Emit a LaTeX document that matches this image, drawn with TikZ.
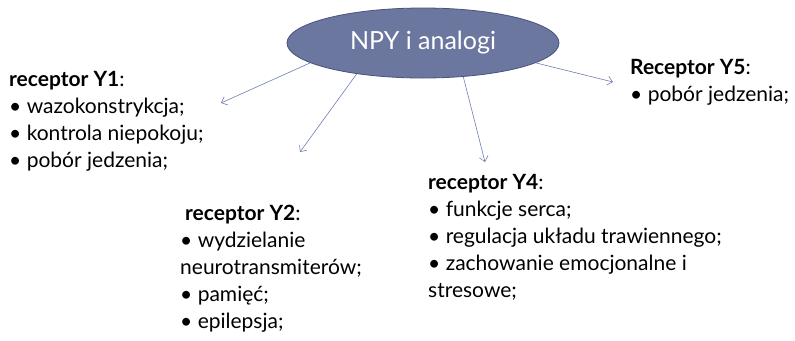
\documentclass[tikz,border=0pt]{standalone}
\usepackage{fontspec}
\setmainfont{Lato}
\usepackage{tikz}
\usepackage{xcolor}
\usetikzlibrary{shapes.geometric, arrows.meta, positioning}
\definecolor{NPY_Fill}{HTML}{6C77A0}
\definecolor{NPY_Border}{HTML}{48537E}
\definecolor{NPY_Link}{HTML}{6F7DB5}

\begin{document}
\begin{tikzpicture}[x=1bp, y=-1bp,
    link/.style={draw=NPY_Link, line width=0.6bp, -{Straight Barb[length=5bp, width=9bp]}},
    block/.style={anchor=north west, inner sep=0pt, align=left,
        font=\fontsize{21bp}{27bp}\selectfont}]
    \useasboundingbox (0,0) rectangle (795,340);

    % Ellipse
    \node[ellipse, draw=NPY_Border, fill=NPY_Fill, line width=0.8bp, inner sep=0pt,
        minimum width=272bp, minimum height=70bp, text=white,
        font=\fontsize{25bp}{30bp}\selectfont] (npy) at (423,43) {NPY i analogi};

    % Receptors
    \node[block] (y1) at (9,71.5) {\textbf{receptor Y1}:\\
        • wazokonstrykcja;\\
        • kontrola niepokoju;\\
        • pobór jedzenia;};
    \node[block] (y2) at (180,204.5) {\hspace{5bp}\textbf{receptor Y2}:\\
        • wydzielanie\\
        neurotransmiterów;\\
        • pamięć;\\
        • epilepsja;};
    \node[block] (y4) at (428,174.5) {\textbf{receptor Y4}:\\
        • funkcje serca;\\
        • regulacja układu trawiennego;\\
        • zachowanie emocjonalne i\\
        stresowe;};
    \node[block] (y5) at (630,59.5) {\textbf{Receptor Y5}:\\
        • pobór jedzenia;};

    % Arrows
    \coordinate (tipA) at (221,103);
    \coordinate (tipB) at (300,152);
    \coordinate (tipC) at (485,162);
    \coordinate (tipD) at (613,82);
    \draw[link] (npy.190) -- (tipA);
    \draw[link] (npy.205) -- (tipB);
    \draw[link] (npy.320) -- (tipC);
    \draw[link] (npy.350) -- (tipD);
\end{tikzpicture}
\end{document}
